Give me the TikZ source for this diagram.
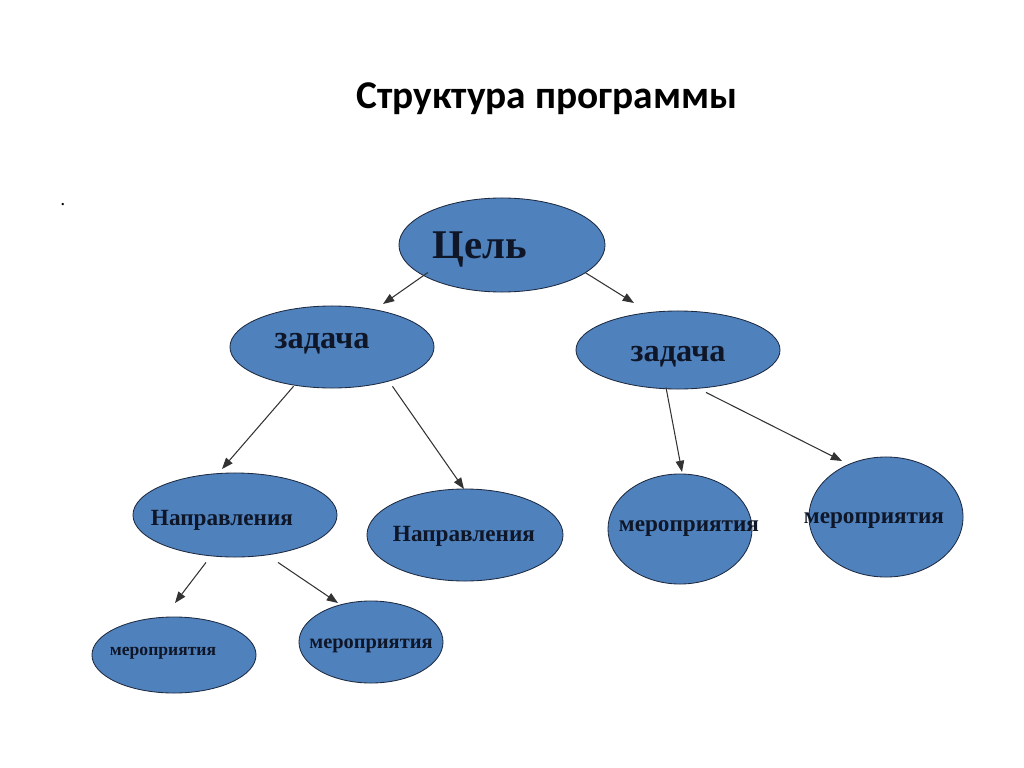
\documentclass[tikz,border=0pt]{standalone}
\usepackage{fontspec}
\setmainfont{Liberation Serif}
\newfontfamily\titlefont{Carlito}
\usetikzlibrary{arrows.meta,shapes.geometric}
\definecolor{ovalblue}{HTML}{4F81BD}
\definecolor{ovalline}{HTML}{1E2A40}
\definecolor{txtdark}{HTML}{0E1628}
\begin{document}
\begin{tikzpicture}[x=0.025cm, y=-0.025cm,
		oval/.style={ellipse, draw=ovalline, line width=0.6pt, fill=ovalblue, inner sep=0pt},
		lbl/.style={font=\bfseries, text=txtdark, inner sep=0pt},
		arr/.style={draw=black!80, line width=0.75pt, -{Triangle[length=8pt,width=6pt]}}]
	\useasboundingbox (0,0) rectangle (1024,768);
	% title
	\node[font=\titlefont\bfseries\fontsize{28}{32}\selectfont] (title) at (547,99) {Структура программы};
	\node[font=\bfseries] (dot) at (63,205) {.};
	% ovals
	\node[oval, minimum width=5.15cm, minimum height=2.35cm] (cel) at (502,245) {};
	\node[oval, minimum width=5.1cm, minimum height=2.05cm] (zadL) at (332,347) {};
	\node[oval, minimum width=5.1cm, minimum height=1.95cm] (zadR) at (678,350) {};
	\node[oval, minimum width=5.1cm, minimum height=2.1cm] (napL) at (235,515) {};
	\node[oval, minimum width=4.9cm, minimum height=2.3cm] (napM) at (465,535) {};
	\node[oval, minimum width=3.6cm, minimum height=2.75cm] (merA) at (680,529) {};
	\node[oval, minimum width=3.85cm, minimum height=3.0cm] (merB) at (886,517) {};
	\node[oval, minimum width=4.1cm, minimum height=1.9cm] (merC) at (174,655) {};
	\node[oval, minimum width=3.6cm, minimum height=2.05cm] (merD) at (371,642) {};
	% labels
	\node[lbl, font=\bfseries\fontsize{29}{32}\selectfont] (tcel) at (480,249) {Цель};
	\node[lbl, font=\bfseries\fontsize{23}{26}\selectfont] (tzadL) at (322,344) {задача};
	\node[lbl, font=\bfseries\fontsize{23}{26}\selectfont] (tzadR) at (678,357) {задача};
	\node[lbl, font=\bfseries\fontsize{16.5}{19}\selectfont] (tnapL) at (222,520) {Направления};
	\node[lbl, font=\bfseries\fontsize{16.5}{19}\selectfont] (tnapM) at (464,536) {Направления};
	\node[lbl, font=\bfseries\fontsize{16.5}{19}\selectfont] (tmerA) at (689,528) {мероприятия};
	\node[lbl, font=\bfseries\fontsize{16.5}{19}\selectfont] (tmerB) at (874,520) {мероприятия};
	\node[lbl, font=\bfseries\fontsize{12.5}{15}\selectfont] (tmerC) at (163,653) {мероприятия};
	\node[lbl, font=\bfseries\fontsize{14.5}{17}\selectfont] (tmerD) at (371,646) {мероприятия};
	% arrow tips
	\coordinate (pzadL) at (383,304);
	\coordinate (pzadR) at (634,303);
	\coordinate (pnapL) at (222,469);
	\coordinate (pnapM) at (464,489);
	\coordinate (pmerA) at (682,472);
	\coordinate (pmerB) at (842,461);
	\coordinate (pmerC) at (175,603);
	\coordinate (pmerD) at (338,603);
	% connectors
	\draw[arr] ([shift={(-1,-6)}]cel.south west) -- (pzadL);
	\draw[arr] ([shift={(10,-6)}]cel.south east) -- (pzadR);
	\draw[arr] ([shift={(34,10)}]zadL.south west) -- (pnapL);
	\draw[arr] ([shift={(-12,10)}]zadL.south east) -- (pnapM);
	\draw[arr] ([shift={(-12,-2)}]zadR.south) -- (pmerA);
	\draw[arr] ([shift={(28,3)}]zadR.south) -- (pmerB);
	\draw[arr] ([shift={(-29,5)}]napL.south) -- (pmerC);
	\draw[arr] ([shift={(43,5)}]napL.south) -- (pmerD);
\end{tikzpicture}
\end{document}
